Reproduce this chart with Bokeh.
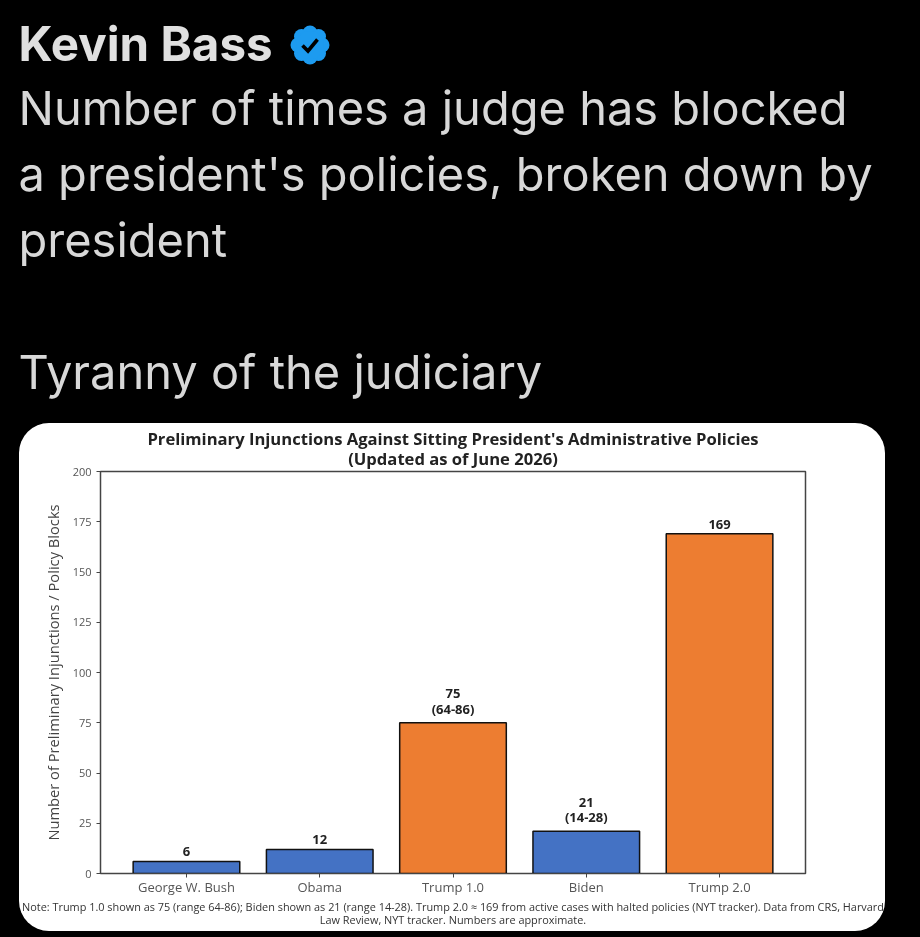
from bokeh.embed import file_html
from bokeh.resources import INLINE
from bokeh.plotting import figure
from bokeh.models import FactorRange, Range1d, FixedTicker, ColumnDataSource, Title
from bokeh.core.properties import value

presidents = ["George W. Bush", "Obama", "Trump 1.0", "Biden", "Trump 2.0"]
counts = [6, 12, 75, 21, 169]
ranges = ["", "", "(64-86)", "(14-28)", ""]
bar_colors = ["#4472C4", "#4472C4", "#ED7D31", "#4472C4", "#ED7D31"]
y_ticks = [0, 25, 50, 75, 100, 125, 150, 175, 200]

author = "Kevin Bass"
tweet_lines = ["Number of times a judge has blocked",
               "a president's policies, broken down by",
               "president",
               "",
               "Tyranny of the judiciary"]
title_lines = ["Preliminary Injunctions Against Sitting President's Administrative Policies",
               "(Updated as of June 2026)"]
y_label = "Number of Preliminary Injunctions / Policy Blocks"
note_lines = ["Note: Trump 1.0 shown as 75 (range 64-86); Biden shown as 21 (range 14-28). Trump 2.0 \u2248 169 from active cases with halted policies (NYT tracker). Data from CRS, Harvard",
              "Law Review, NYT tracker. Numbers are approximate."]

W, H = 920, 937
BODY = "Open Sans"
TWEET = "Inter"

p = figure(width=W, height=H, output_backend="svg", toolbar_location=None,
           x_range=FactorRange(*presidents, range_padding=0.058),
           y_range=Range1d(0, 200),
           min_border_left=100, min_border_right=115, min_border_top=471, min_border_bottom=64,
           border_fill_alpha=0, background_fill_color="#ffffff")


def styled(t, text, font, size, color, bold, align, standoff, offset=0, **kw):
    t.text = text
    t.text_font = font
    t.text_font_size = size
    t.text_color = color
    t.text_font_style = "bold" if bold else "normal"
    t.align = align
    t.standoff = standoff
    t.offset = offset
    for k, v in kw.items():
        setattr(t, k, v)
    return t


# stacked upward from the frame
styled(p.title, author, TWEET, "47.5px", "#e0e0e0", True, "left", -48, -82)
p.add_layout(styled(Title(), title_lines[1], BODY, "16.6px", "#222222", True, "center", 4), "above")
p.add_layout(styled(Title(), title_lines[0], BODY, "16.6px", "#222222", True, "center", -15), "above")
p.add_layout(styled(Title(), "\n".join(tweet_lines), TWEET, "47px", "#d8d8d8", False, "left", 62, -82,
                    vertical_align="top", text_line_height=1.16), "above")

p.add_layout(styled(Title(), note_lines[0], BODY, "10.9px", "#333333", False, "center", -4), "below")
p.add_layout(styled(Title(), note_lines[1], BODY, "10.9px", "#333333", False, "center", -4), "below")

p.grid.visible = False
p.outline_line_color = "#444444"
p.outline_line_width = 1.5

src = ColumnDataSource(dict(x=presidents, top=counts, color=bar_colors,
                            label=[f"{c}\n{r}" if r else f"{c}" for c, r in zip(counts, ranges)]))
p.vbar(x="x", top="top", width=0.8, bottom=0, source=src, fill_color="color",
       line_color="#111111", line_width=1.5)
p.text(x="x", y="top", text="label", source=src, text_align="center", text_baseline="bottom",
       y_offset=-5, text_font=value(BODY), text_font_size="13px", text_font_style="bold",
       text_color="#222222", text_line_height=0.85)

p.yaxis.ticker = FixedTicker(ticks=y_ticks)
p.yaxis.axis_label = y_label
p.yaxis.axis_label_text_font = BODY
p.yaxis.axis_label_text_font_style = "normal"
p.yaxis.axis_label_text_font_size = "14.7px"
p.yaxis.axis_label_text_color = "#444444"
p.yaxis.axis_label_standoff = 7
p.yaxis.major_label_text_font = BODY
p.yaxis.major_label_text_font_size = "11px"
p.yaxis.major_label_text_color = "#555555"
p.xaxis.major_label_text_font = BODY
p.xaxis.major_label_text_font_size = "13px"
p.xaxis.major_label_text_color = "#555555"
p.xaxis.major_label_standoff = 0
p.axis.axis_line_color = "#444444"
p.axis.major_tick_line_color = "#444444"
p.axis.minor_tick_line_color = None
p.axis.major_tick_out = 4
p.axis.major_tick_in = 0

# page furniture around the figure: the white card and the verified badge
lobes = "".join(f"<circle cx='{cx}' cy='{cy}' r='7.5'/>" for cx, cy in
                [(20, 8), (28.5, 11.5), (32, 20), (28.5, 28.5), (20, 32), (11.5, 28.5), (8, 20), (11.5, 11.5)])
badge_svg = ("<svg xmlns='http://www.w3.org/2000/svg' width='40' height='40'>"
             f"<g fill='%231d9bf0'>{lobes}<circle cx='20' cy='20' r='14'/></g>"
             "<path d='M12.5 20.5 L18 26 L27.5 14.5' fill='none' stroke='%23000' stroke-width='3.6'/></svg>")
page_css = ("html{background:#000000;}body{background:transparent;margin:0;}"
            "body::before{content:'';position:fixed;left:19px;top:423px;width:866px;height:508px;"
            "background:#ffffff;border-radius:30px;z-index:-1;}"
            "body::after{content:'';position:fixed;left:290px;top:25px;width:40px;height:40px;z-index:5;"
            f'pointer-events:none;background-image:url("data:image/svg+xml,{badge_svg}");}}')

html = file_html(p, INLINE)
html = html.replace("<head>", "<head><style>" + page_css + "</style>", 1)
open("out.html", "w").write(html)
